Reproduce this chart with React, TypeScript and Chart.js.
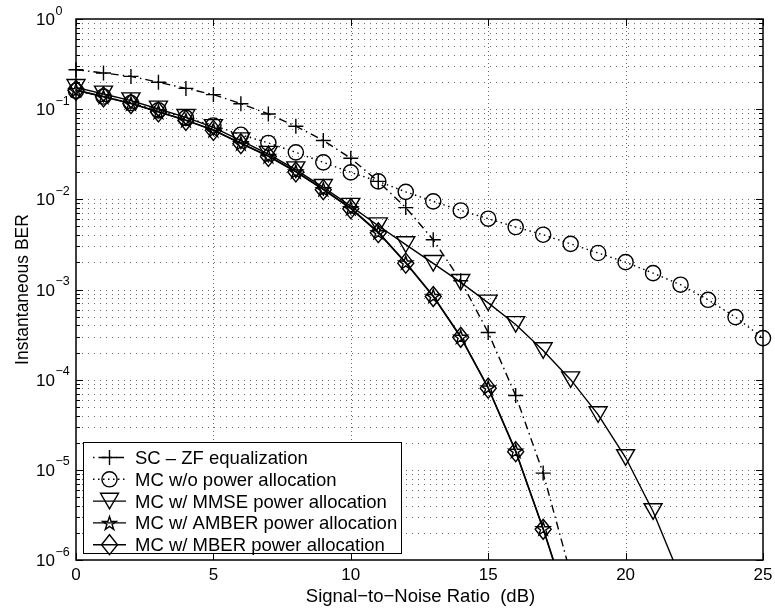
import React, { useEffect, useRef } from "react";
import { Chart, registerables } from "chart.js";

Chart.register(...registerables);

// ---- data ----
const snrDb = [0, 1, 2, 3, 4, 5, 6, 7, 8, 9, 10, 11, 12, 13, 14, 15, 16, 17, 18, 19, 20, 21, 22, 23, 24, 25];

const scZf = [0.274, 0.252, 0.231, 0.199, 0.17, 0.145, 0.115, 0.0885, 0.0647, 0.0449, 0.0285, 0.0158, 0.0081, 0.00356, 0.00125, 3.33e-4, 6.67e-5, 9.2e-6, 7e-7];
const mcNoPa = [0.16, 0.138, 0.117, 0.097, 0.08, 0.066, 0.052, 0.0422, 0.0332, 0.0257, 0.0199, 0.0158, 0.0121, 0.0095, 0.00753, 0.0061, 0.00493, 0.00405, 0.00321, 0.00254, 0.00201, 0.00152, 0.00113, 7.69e-4, 4.94e-4, 2.89e-4];
const mcMmse = [0.1746, 0.1475, 0.1242, 0.1005, 0.0811, 0.0628, 0.0447, 0.0317, 0.0213, 0.0136, 0.0084, 0.0051, 0.00315, 0.00195, 0.0012, 7.1e-4, 4.1e-4, 2.1e-4, 1.0e-4, 4.1e-5, 1.37e-5, 3.45e-6, 6.3e-7];
const mcAmber = [0.163, 0.138, 0.116, 0.0938, 0.0757, 0.0588, 0.0419, 0.0303, 0.0204, 0.013, 0.008, 0.00433, 0.002, 8.5e-4, 3.0e-4, 8.2e-5, 1.63e-5, 2.25e-6, 2.6e-7];
const mcMber = [0.162, 0.137, 0.115, 0.0931, 0.0751, 0.0582, 0.0414, 0.0299, 0.0201, 0.0128, 0.00787, 0.00426, 0.00196, 8.36e-4, 2.95e-4, 8.05e-5, 1.59e-5, 2.19e-6, 2.5e-7];

const seriesLabels = [
  "SC \u2013 ZF equalization",
  "MC w/o power allocation",
  "MC w/ MMSE power allocation",
  "MC w/ AMBER power allocation",
  "MC w/ MBER power allocation",
];

const xTickValues = [0, 5, 10, 15, 20, 25];
const yDecadeExponents = [-6, -5, -4, -3, -2, -1, 0];
const yMinorMantissas = [2, 3, 4, 5, 6, 7, 8, 9];

const xTitle = "Signal\u2212to\u2212Noise Ratio  (dB)";
const yTitle = "Instantaneous BER";

const FONT = '"Liberation Sans", Arial, Helvetica, sans-serif';

type MarkerKind = "plus" | "circle" | "triangleDown" | "pentagram" | "diamond";

const seriesValues = [scZf, mcNoPa, mcMmse, mcAmber, mcMber];
const seriesMarkers: MarkerKind[] = ["plus", "circle", "triangleDown", "pentagram", "diamond"];
const seriesDash: number[][] = [[8, 4, 1.5, 4], [1.5, 3.5], [], [], []];

// Open (unfilled) marker glyph centred on (cx, cy)
function drawMarker(ctx: CanvasRenderingContext2D, kind: MarkerKind, cx: number, cy: number) {
  ctx.save();
  ctx.translate(cx, cy);
  ctx.setLineDash([]);
  ctx.strokeStyle = "#000";
  ctx.lineWidth = 1.4;
  ctx.lineJoin = "miter";
  ctx.beginPath();
  switch (kind) {
    case "plus":
      ctx.moveTo(-7.5, 0);
      ctx.lineTo(7.5, 0);
      ctx.moveTo(0, -7.5);
      ctx.lineTo(0, 7.5);
      break;
    case "circle":
      ctx.arc(0, 0, 7.6, 0, Math.PI * 2);
      break;
    case "triangleDown":
      ctx.moveTo(-9, -7.8);
      ctx.lineTo(9, -7.8);
      ctx.lineTo(0, 7.8);
      ctx.closePath();
      break;
    case "pentagram": {
      const R = 7.2;
      const r = R * 0.382;
      for (let k = 0; k < 10; k++) {
        const rad = k % 2 === 0 ? R : r;
        const a = -Math.PI / 2 + (k * Math.PI) / 5;
        const px = Math.cos(a) * rad;
        const py = Math.sin(a) * rad + 0.8;
        if (k === 0) ctx.moveTo(px, py);
        else ctx.lineTo(px, py);
      }
      ctx.closePath();
      break;
    }
    case "diamond":
      ctx.moveTo(0, -10);
      ctx.lineTo(8, 0);
      ctx.lineTo(0, 10);
      ctx.lineTo(-8, 0);
      ctx.closePath();
      break;
  }
  ctx.stroke();
  ctx.restore();
}

const plotPlugin = {
  id: "matlabAxes",
  beforeDatasetsDraw(chart: any) {
    const { ctx, chartArea, scales } = chart;
    const { left, right, top, bottom } = chartArea;
    const y = scales.y;
    const x = scales.x;
    ctx.save();
    ctx.strokeStyle = "#6a6a6a";
    ctx.lineWidth = 1;
    // horizontal dotted grid at every decade and sub-decade
    ctx.setLineDash([1, 5]);
    for (const e of yDecadeExponents) {
      const vals = [Math.pow(10, e)];
      if (e < 0) for (const m of yMinorMantissas) vals.push(m * Math.pow(10, e));
      for (const v of vals) {
        const py = Math.round(y.getPixelForValue(v)) + 0.5;
        if (py <= top + 1 || py >= bottom - 1) continue;
        ctx.beginPath();
        ctx.moveTo(left, py);
        ctx.lineTo(right, py);
        ctx.stroke();
      }
    }
    // vertical dotted grid at major x ticks
    ctx.setLineDash([1, 3]);
    for (const t of xTickValues) {
      const px = Math.round(x.getPixelForValue(t)) + 0.5;
      if (px <= left + 1 || px >= right - 1) continue;
      ctx.beginPath();
      ctx.moveTo(px, top);
      ctx.lineTo(px, bottom);
      ctx.stroke();
    }
    ctx.restore();
  },
  afterDatasetsDraw(chart: any) {
    const { ctx, chartArea, scales } = chart;
    const { left, right, top, bottom } = chartArea;
    const y = scales.y;
    const x = scales.x;

    // markers at every point inside the plotted range
    chart.data.datasets.forEach((ds: any, i: number) => {
      const meta = chart.getDatasetMeta(i);
      meta.data.forEach((el: any, k: number) => {
        const v = ds.data[k].y;
        if (v < y.min || v > y.max) return;
        drawMarker(ctx, seriesMarkers[i], el.x, el.y);
      });
    });

    ctx.save();
    ctx.setLineDash([]);
    ctx.strokeStyle = "#000";
    ctx.fillStyle = "#000";

    // axes box
    ctx.lineWidth = 1.5;
    ctx.strokeRect(left, top, right - left, bottom - top);

    // tick marks
    ctx.lineWidth = 1;
    ctx.beginPath();
    for (const e of yDecadeExponents) {
      const py = Math.round(y.getPixelForValue(Math.pow(10, e))) + 0.5;
      ctx.moveTo(left, py);
      ctx.lineTo(left + 7, py);
      ctx.moveTo(right, py);
      ctx.lineTo(right - 7, py);
      if (e < 0) {
        for (const m of yMinorMantissas) {
          const pm = Math.round(y.getPixelForValue(m * Math.pow(10, e))) + 0.5;
          ctx.moveTo(left, pm);
          ctx.lineTo(left + 4, pm);
          ctx.moveTo(right, pm);
          ctx.lineTo(right - 4, pm);
        }
      }
    }
    for (const t of xTickValues) {
      const px = Math.round(x.getPixelForValue(t)) + 0.5;
      ctx.moveTo(px, bottom);
      ctx.lineTo(px, bottom - 7);
      ctx.moveTo(px, top);
      ctx.lineTo(px, top + 7);
    }
    ctx.stroke();

    // y tick labels: 10 with superscript exponent
    for (const e of yDecadeExponents) {
      const py = y.getPixelForValue(Math.pow(10, e));
      ctx.font = `17px ${FONT}`;
      ctx.textAlign = "right";
      ctx.textBaseline = "alphabetic";
      ctx.fillText("10", 55, py + 6);
      ctx.font = `12.5px ${FONT}`;
      ctx.textAlign = "left";
      ctx.fillText(e === 0 ? "0" : "\u2212" + Math.abs(e), 55.5, py - 4.5);
    }

    // x tick labels
    ctx.font = `17px ${FONT}`;
    ctx.textAlign = "center";
    ctx.textBaseline = "alphabetic";
    for (const t of xTickValues) {
      ctx.fillText(String(t), x.getPixelForValue(t), 580);
    }

    // axis titles
    ctx.font = `18.5px ${FONT}`;
    ctx.fillText(xTitle, (left + right) / 2 + 1, 601.5);
    ctx.save();
    ctx.translate(27.5, (top + bottom) / 2);
    ctx.rotate(-Math.PI / 2);
    ctx.font = `17.5px ${FONT}`;
    ctx.textAlign = "center";
    ctx.fillText(yTitle, 0, 0);
    ctx.restore();

    // legend
    const box = { l: 83.5, t: 442.5, r: 401.5, b: 553.5 };
    ctx.fillStyle = "#fff";
    ctx.fillRect(box.l, box.t, box.r - box.l, box.b - box.t);
    ctx.strokeStyle = "#000";
    ctx.lineWidth = 1;
    ctx.strokeRect(box.l, box.t, box.r - box.l, box.b - box.t);
    const rowStart = 457.5;
    const rowStep = 21.8;
    chart.data.datasets.forEach((ds: any, i: number) => {
      const ry = rowStart + i * rowStep;
      ctx.save();
      ctx.strokeStyle = "#000";
      ctx.lineWidth = ds.borderWidth;
      ctx.setLineDash(ds.borderDash || []);
      ctx.lineDashOffset = i === 0 ? 12 : 0;
      ctx.beginPath();
      ctx.moveTo(93, ry);
      ctx.lineTo(126, ry);
      ctx.stroke();
      ctx.restore();
      drawMarker(ctx, seriesMarkers[i], 109.5, ry);
      ctx.fillStyle = "#000";
      ctx.font = `18.5px ${FONT}`;
      ctx.textAlign = "left";
      ctx.textBaseline = "alphabetic";
      ctx.fillText(ds.label, 135, ry + 6.5);
    });
    ctx.restore();
  },
};

export default function App() {
  const canvasRef = useRef<HTMLCanvasElement | null>(null);

  useEffect(() => {
    const canvas = canvasRef.current;
    if (!canvas) return;
    const datasets = seriesValues.map((vals, i) => ({
      label: seriesLabels[i],
      data: vals.map((v, k) => ({ x: snrDb[k], y: v })),
      showLine: true,
      borderColor: "#000",
      backgroundColor: "#000",
      borderWidth: 1.4,
      borderDash: seriesDash[i],
      pointRadius: 0,
      pointHoverRadius: 0,
      tension: 0,
      clip: { left: false, top: false, right: false, bottom: 0 },
    }));

    const chart = new Chart(canvas, {
      type: "scatter",
      data: { datasets },
      options: {
        responsive: false,
        animation: false,
        events: [],
        layout: { padding: { left: 0, top: 19, right: 12, bottom: 0 } },
        scales: {
          x: {
            type: "linear",
            min: 0,
            max: 25,
            grid: { display: false },
            border: { display: false },
            ticks: { display: false },
            afterFit: (s: any) => {
              s.height = 49;
            },
          },
          y: {
            type: "logarithmic",
            min: 1e-6,
            max: 1,
            grid: { display: false },
            border: { display: false },
            ticks: { display: false },
            afterFit: (s: any) => {
              s.width = 76;
            },
          },
        },
        plugins: {
          legend: { display: false },
          tooltip: { enabled: false },
        },
      },
      plugins: [plotPlugin],
    } as any);

    return () => chart.destroy();
  }, []);

  return (
    <div style={{ position: "absolute", left: 0, top: 0, width: 775, height: 609, background: "#fff" }}>
      <canvas ref={canvasRef} width={775} height={609} style={{ display: "block" }} />
    </div>
  );
}
